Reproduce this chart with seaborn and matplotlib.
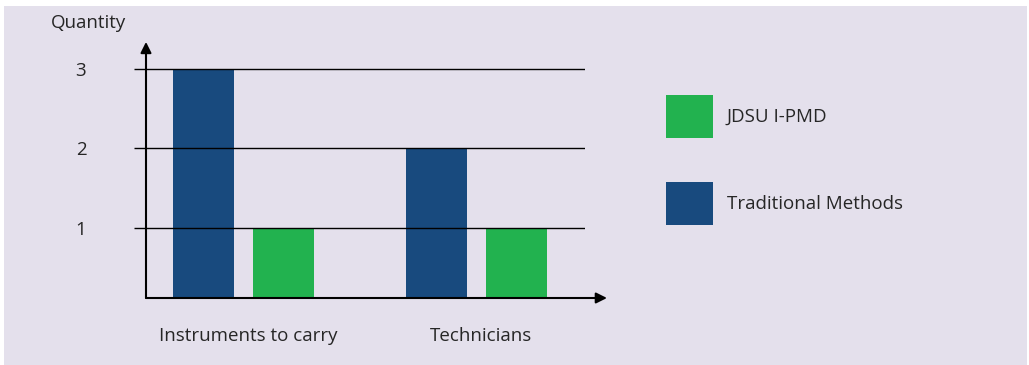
import pandas as pd
import matplotlib
matplotlib.use("Agg")
import matplotlib.pyplot as plt
from matplotlib.patches import Rectangle
from matplotlib.transforms import ScaledTranslation
import seaborn as sns

categories = ["Instruments to carry", "Technicians"]
traditional = [3, 2]
jdsu = [1, 1]
series_names = ["Traditional Methods", "JDSU I-PMD"]
colors = ["#184a7e", "#22b24f"]
ytick_vals = [1, 2, 3]

df = pd.DataFrame({
    "category": categories * 2,
    "method": [series_names[0]] * 2 + [series_names[1]] * 2,
    "qty": traditional + jdsu,
})

sns.set_style("white")
plt.rcParams["font.family"] = ["Open Sans", "DejaVu Sans"]

fig = plt.figure(figsize=(10.29, 3.65), dpi=100, facecolor="white")
fig.patches.append(Rectangle((4 / 1029, 0), 1023 / 1029, 359 / 365,
                             transform=fig.transFigure, facecolor="#e4e0ec",
                             edgecolor="none", zorder=-10))
ax = fig.add_axes([146 / 1029, 67 / 365, 439 / 1029, 233 / 365])
ax.set_facecolor("none")

sns.barplot(data=df, x="category", y="qty", hue="method", order=categories,
            hue_order=series_names, palette=colors, width=0.687, gap=0.23,
            saturation=1, linewidth=0, edgecolor="none", ax=ax, legend=True)

ax.set_xlim(-0.418, 1.466)
ax.set_ylim(0.12, 3.05)
ax.set_yticks(ytick_vals)
ax.set_xlabel("")
ax.set_ylabel("")
for s in ax.spines.values():
    s.set_visible(False)

ax.yaxis.grid(True, color="black", lw=1)
ax.set_axisbelow(False)
ax.tick_params(axis="y", length=9, width=1, color="black", direction="out",
               pad=34, labelsize=13.5, left=True)
ax.tick_params(axis="x", length=0, pad=21, labelsize=13.5)

# category labels sit a little right of the group centres
shift = ScaledTranslation(5 / 100, 0, fig.dpi_scale_trans)
for lbl in ax.get_xticklabels():
    lbl.set_transform(lbl.get_transform() + shift)

# axis arrows
ax.annotate("", xy=(1.05, 0), xytext=(0, 0), xycoords="axes fraction",
            arrowprops=dict(arrowstyle="-|>", mutation_scale=16, lw=1.5,
                            color="black", shrinkA=0, shrinkB=0),
            annotation_clip=False)
ax.annotate("", xy=(0, 1.099), xytext=(0, 0), xycoords="axes fraction",
            arrowprops=dict(arrowstyle="-|>", mutation_scale=16, lw=1.5,
                            color="black", shrinkA=0, shrinkB=0),
            annotation_clip=False)

fig.text(89 / 1029, 1 - 23 / 365, "Quantity", ha="center", va="center", fontsize=13.5)

handles, labels = ax.get_legend_handles_labels()
ax.get_legend().remove()
fig.legend(handles[::-1], labels[::-1], loc="upper left",
           bbox_to_anchor=(666 / 1029, 1 - 95 / 365), frameon=False,
           fontsize=13.5, handlelength=2.5, handleheight=3.15, labelspacing=2.35,
           handletextpad=0.75, borderpad=0, borderaxespad=0)

fig.savefig("out.png", dpi=100, facecolor=fig.get_facecolor())
